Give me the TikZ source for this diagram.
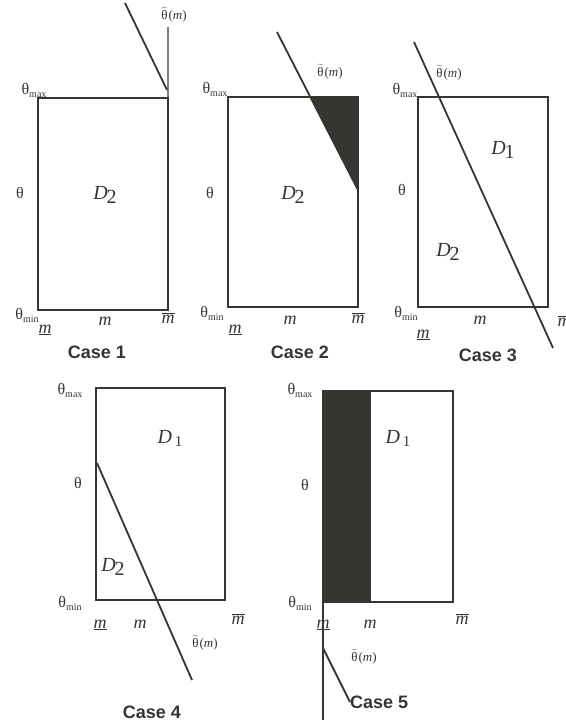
\documentclass[tikz,border=0pt]{standalone}
\usepackage{fontspec}
\setmainfont{Liberation Serif}
\newfontfamily\casefont{Liberation Sans}
\usetikzlibrary{calc}

\definecolor{ink}{HTML}{353532}
\newcommand{\thmax}{θ\raisebox{-3pt}{\fontsize{10}{10}\selectfont max}}
\newcommand{\thmin}{θ\raisebox{-3pt}{\fontsize{10}{10}\selectfont min}}
\newcommand{\thtil}{$\widetilde{\hbox{θ}}$\kern1pt(\textit{m})}
\newcommand{\mlow}{\underline{\textit{m}}}
\newcommand{\mhigh}{$\overline{\hbox{\textit{m}}}$}
\newcommand{\dtwo}{\textit{D}\kern-1pt\raisebox{-4pt}{2}}
\newcommand{\done}{\textit{D}\kern3pt\raisebox{-3pt}{\fontsize{15}{15}\selectfont 1}}

\tikzset{
    box/.style={draw=ink, line width=2.6pt},
    cut/.style={draw=ink, line width=1.8pt},
    lab/.style={font=\fontsize{16}{16}\selectfont, text=ink, inner sep=0pt},
    tlab/.style={font=\fontsize{13}{13}\selectfont, text=ink, inner sep=0pt},
    var/.style={font=\fontsize{18}{18}\selectfont, text=ink, inner sep=0pt},
    dom/.style={font=\fontsize{20}{20}\selectfont, text=ink, inner sep=0pt},
    casename/.style={font=\casefont\bfseries\fontsize{18}{18}\selectfont, text=ink, inner sep=0pt},
}

\begin{document}
\begin{tikzpicture}[x=1pt, y=-1pt]
    \useasboundingbox (0,0) rectangle (565,725);

    % Case 1
    \draw[gray, line width=1.2pt] (168,27) -- (168,98);
    \draw[cut] (125,3) -- (167,90);
    \draw[box] (38,98) rectangle (168,310);
    \node[tlab] (t1) at (174,15) {\thtil};
    \node[lab] (a1) at (34,90) {\thmax};
    \node[lab] (b1) at (20,193) {θ};
    \node[lab] (c1) at (27,315) {\thmin};
    \node[dom] (d1) at (105,195) {\dtwo};
    \node[var] (l1) at (45,330) {\mlow};
    \node[var] (m1) at (105,321) {\textit{m}};
    \node[var] (h1) at (168,318) {\mhigh};
    \node[casename] (n1) at (97,352) {Case 1};

    % Case 2
    \fill[ink] (310,97) -- (358,97) -- (358,190) -- cycle;
    \draw[box] (228,97) rectangle (358,307);
    \draw[cut] (277,32) -- (358,190);
    \node[tlab] (t2) at (330,72) {\thtil};
    \node[lab] (a2) at (215,89) {\thmax};
    \node[lab] (b2) at (210,193) {θ};
    \node[lab] (c2) at (212,313) {\thmin};
    \node[dom] (d2) at (293,195) {\dtwo};
    \node[var] (l2) at (235,330) {\mlow};
    \node[var] (m2) at (290,320) {\textit{m}};
    \node[var] (h2) at (358,318) {\mhigh};
    \node[casename] (n2) at (300,352) {Case 2};

    % Case 3
    \draw[box] (418,97) rectangle (548,307);
    \draw[cut] (414,42) -- (553,348);
    \node[tlab] (t3) at (449,73) {\thtil};
    \node[lab] (a3) at (405,90) {\thmax};
    \node[lab] (b3) at (402,190) {θ};
    \node[lab] (c3) at (406,313) {\thmin};
    \node[dom] (d3) at (503,150) {\textit{D}\kern-1pt\raisebox{-4pt}{1}};
    \node[dom] (e3) at (448,252) {\dtwo};
    \node[var] (l3) at (423,335) {\mlow};
    \node[var] (m3) at (480,320) {\textit{m}};
    \node[var] (h3) at (564,321) {\mhigh};
    \node[casename] (n3) at (488,355) {Case 3};

    % Case 4
    \draw[box] (96,388) rectangle (225,600);
    \draw[cut] (97,463) -- (192,680);
    \node[tlab] (t4) at (205,643) {\thtil};
    \node[lab] (a4) at (70,390) {\thmax};
    \node[lab] (b4) at (78,483) {θ};
    \node[lab] (c4) at (70,603) {\thmin};
    \node[dom] (d4) at (170,438) {\done};
    \node[dom] (e4) at (113,567) {\dtwo};
    \node[var] (l4) at (100,625) {\mlow};
    \node[var] (m4) at (140,624) {\textit{m}};
    \node[var] (h4) at (238,619) {\mhigh};
    \node[casename] (n4) at (152,712) {Case 4};

    % Case 5
    \fill[ink] (323,391) rectangle (371,602);
    \draw[box] (323,391) rectangle (453,602);
    \draw[line width=1.2pt, ink] (323,602) -- (323,720);
    \node[casename, anchor=west] (n5) at (350,702) {Case 5};
    \draw[cut] (323,648) -- (n5.west);
    \node[tlab] (t5) at (364,657) {\thtil};
    \node[lab] (a5) at (300,390) {\thmax};
    \node[lab] (b5) at (305,485) {θ};
    \node[lab] (c5) at (300,603) {\thmin};
    \node[dom] (d5) at (398,438) {\done};
    \node[var] (l5) at (323,625) {\mlow};
    \node[var] (m5) at (370,624) {\textit{m}};
    \node[var] (h5) at (462,619) {\mhigh};
\end{tikzpicture}
\end{document}
